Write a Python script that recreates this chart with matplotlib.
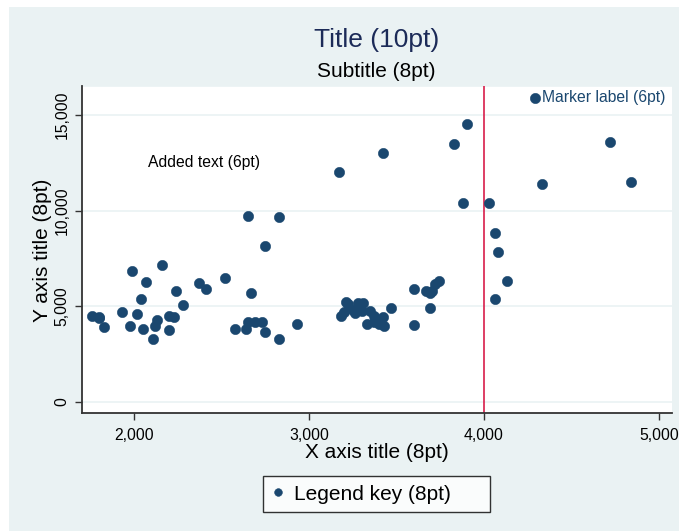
import matplotlib
matplotlib.use('Agg')
import matplotlib.pyplot as plt
from matplotlib.patches import Rectangle

plt.rcParams['font.family'] = ['Liberation Sans', 'DejaVu Sans']

# auto data: weight (lbs) vs price
weight = [2930, 3350, 2640, 3250, 4080, 3670, 2230, 3280, 3880, 3400,
          4330, 3900, 4290, 2110, 3690, 3180, 3220, 2750, 3430, 2120,
          3600, 3600, 3740, 1800, 2650, 4840, 4720, 3830, 2580, 4060,
          3720, 3370, 4130, 2830, 4060, 3310, 3300, 3690, 3370, 2730,
          4030, 3260, 1800, 2200, 2520, 3330, 3700, 3470, 3210, 3200,
          3420, 2690, 2830, 2070, 2650, 2370, 2020, 2280, 2750, 2130,
          2240, 1760, 1980, 3420, 1830, 2050, 2410, 2200, 2670, 2160,
          2040, 1930, 1990, 3170]
price = [4099, 4749, 3799, 4816, 7827, 5788, 4453, 5189, 10372, 4082,
         11385, 14500, 15906, 3299, 5705, 4504, 5104, 3667, 3955, 3984,
         4010, 5886, 6342, 4389, 4187, 11497, 13594, 13466, 3829, 5379,
         6165, 4516, 6303, 3291, 8814, 5172, 4733, 4890, 4181, 4195,
         10371, 4647, 4425, 4482, 6486, 4060, 5798, 4934, 5222, 4723,
         4424, 4172, 9690, 6295, 9735, 6229, 4589, 5079, 8129, 4296,
         5799, 4499, 3995, 12990, 3895, 3798, 5899, 3748, 5719, 7140,
         5397, 4697, 6850, 11995]
label_idx = 12  # Cad. Seville
xline_at = 4000
x_ticks = [2000, 3000, 4000, 5000]
y_ticks = [0, 5000, 10000, 15000]

navy = '#1a476f'
bg = '#eaf2f3'

fig = plt.figure(figsize=(6.79, 5.31), dpi=100)
fig.patch.set_facecolor('white')
fig.patches.append(Rectangle((9 / 679, 0), 1 - 9 / 679, 1 - 7 / 531,
                             transform=fig.transFigure, facecolor=bg,
                             edgecolor='none', zorder=-10))

ax = fig.add_axes([82 / 679, 1 - 413 / 531, 590 / 679, 327 / 531])
ax.set_facecolor('white')

for y in y_ticks:
    ax.axhline(y, color=bg, linewidth=1.2, zorder=0)
ax.axhline(16510, color=bg, linewidth=1.2, zorder=0)

ax.axvline(xline_at, color='#d81e4a', linewidth=1.2, zorder=1)
ax.plot(weight, price, 'o', color=navy, markersize=7.4, markeredgewidth=0.4,
        markeredgecolor=navy, zorder=3, label='Legend key (8pt)')

ax.annotate('Marker label (6pt)', (weight[label_idx], price[label_idx]),
            xytext=(5, 0), textcoords='offset points', ha='left', va='center',
            fontsize=11.3, color=navy)
ax.text(2400, 12500, 'Added text (6pt)', ha='center', va='center',
        fontsize=11.3, color='black')

ax.set_xlim(1703, 5074)
ax.set_ylim(-575, 16510)
ax.set_xticks(x_ticks)
ax.set_xticklabels([f'{v:,}' for v in x_ticks], fontsize=11.3)
ax.set_yticks(y_ticks)
ax.set_yticklabels([f'{v:,}' for v in y_ticks], fontsize=11.3,
                   rotation=90, va='center')
ax.tick_params(direction='out', length=5, width=1, color='#333333', pad=4)
ax.tick_params(axis='x', pad=6)

for s in ['top', 'right']:
    ax.spines[s].set_visible(False)
for s in ['left', 'bottom']:
    ax.spines[s].set_color('#333333')
    ax.spines[s].set_linewidth(1.3)

fig.text(0.5545, 1 - 40 / 531, 'Title (10pt)', ha='center', va='center',
         fontsize=19, color='#1c2b58')
fig.text(0.5545, 1 - 71 / 531, 'Subtitle (8pt)', ha='center', va='center',
         fontsize=15)
fig.text(0.5545, 1 - 452 / 531, 'X axis title (8pt)', ha='center',
         va='center', fontsize=15)
fig.text(42 / 679, 1 - 250 / 531, 'Y axis title (8pt)', ha='center',
         va='center', fontsize=15, rotation=90)

leg = fig.legend(loc='center', mode='expand',
                 bbox_to_anchor=(263 / 679, 1 - 512 / 531, 227 / 679, 36 / 531),
                 fontsize=15, frameon=True, fancybox=False, markerscale=0.75,
                 handletextpad=0.5, handlelength=0.6, borderpad=0.4,
                 borderaxespad=0)
leg.get_frame().set_edgecolor('black')
leg.get_frame().set_linewidth(1.0)

plt.savefig('out.png', dpi=100, facecolor=fig.get_facecolor())
plt.close()
